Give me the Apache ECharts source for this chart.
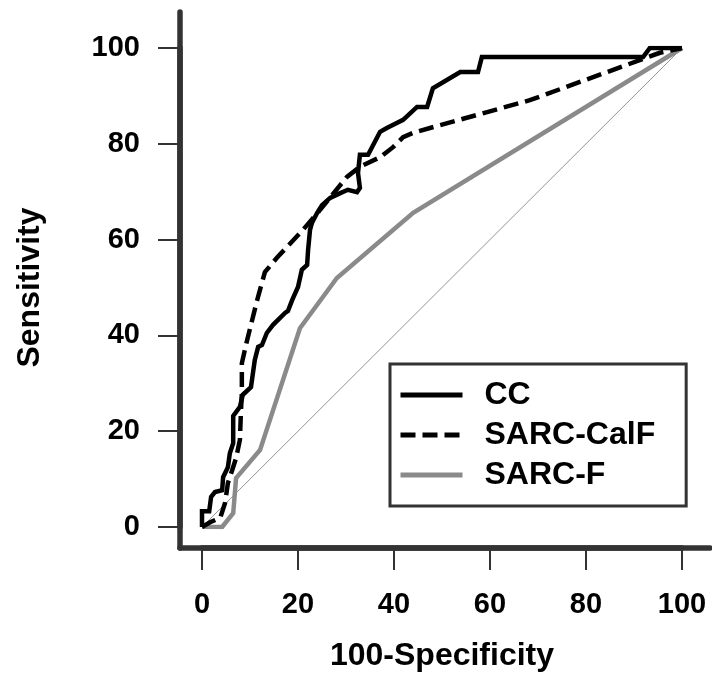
<!doctype html>
<html lang="en">
<head>
    <meta charset="UTF-8">
    <script src="https://cdn.jsdelivr.net/npm/echarts@6/dist/echarts.min.js"></script>
    <title>ROC</title>
    <style>
        body { margin: 0; background: #fff; }
    </style>
</head>
<body>
<div id="main" style="width: 712px;height:677px;"></div>
<script>
    // ROC curve points [100-specificity, sensitivity]
    var ccPoints = [
        [0, 0], [0, 3.3], [1.5, 3.3], [1.9, 6.3], [2.7, 7.3], [4.2, 7.7], [4.4, 10.4],
        [5.4, 12.5], [5.8, 15.4], [6.5, 17.5], [6.5, 23.2], [7.9, 25.1], [8.5, 27.6],
        [10.2, 29.2], [11.0, 34.9], [11.7, 37.6], [12.5, 38.0], [13.5, 40.5], [14.8, 42.2],
        [17.3, 44.7], [17.9, 45.1], [18.8, 47.4], [20.0, 50.1], [20.8, 53.7], [21.9, 54.7],
        [22.1, 57.8], [22.5, 62.0], [22.9, 63.5], [24.0, 65.6], [25.0, 67.2], [26.7, 68.7],
        [28.8, 69.7], [30.4, 70.4], [32.3, 69.9], [32.9, 70.8], [32.5, 73.9], [32.9, 77.7],
        [34.6, 77.7], [37.1, 82.5], [38.5, 83.3], [41.9, 85.0], [44.8, 87.7], [46.9, 87.7],
        [48.1, 91.6], [53.8, 95.0], [57.5, 95.0], [58.3, 98.1], [91.9, 98.1], [93.3, 100],
        [100, 100]
    ];
    var calfPoints = [
        [0, 0], [1.7, 1.0], [3.8, 1.9], [4.8, 5.0], [5.4, 9.2], [6.3, 11.9], [7.1, 14.4],
        [7.9, 18.2], [8.1, 23.8], [8.3, 28.0], [8.3, 34.2], [9.4, 39.0], [11.5, 47.4],
        [13.1, 53.2], [15.6, 56.2], [21.0, 62.0], [24.6, 66.2], [30.2, 73.1], [32.9, 75.2],
        [37.1, 77.2], [39.8, 79.3], [41.9, 81.4], [44.0, 82.3], [47.5, 83.3], [68.3, 89.1],
        [95.4, 99.0], [100, 100]
    ];
    var sarcfPoints = [
        [0, 0], [4.2, 0], [6.5, 2.9], [7.1, 10.2], [12.1, 16.1], [20.4, 41.5],
        [28.1, 52.0], [44.0, 65.6], [100, 100]
    ];
    var refPoints = [[0, 0], [100, 100]];
    var tickValues = [0, 20, 40, 60, 80, 100];
    var seriesNames = ['CC', 'SARC-CalF', 'SARC-F'];

    var font = 'Liberation Sans, Arial, sans-serif';
    var axisColor = '#333';
    var myChart = echarts.init(document.getElementById('main'));

    // plot area of the data grid (grid 1), in px, and the gap to the frame lines
    var plotW = 712 - 202 - 30, plotH = 677 - 48 - 150;
    var frameGapX = 22, frameGapY = 21, tickLen = 22;
    var unitX = plotW / 100, unitY = plotH / 100;

    function hiddenAxis(grid, max) {
        return {type: 'value', gridIndex: grid, min: 0, max: max, show: false};
    }

    // grid 0 only carries the long axis lines
    function frameAxis() {
        return {
            type: 'value', gridIndex: 0, min: 0, max: 1,
            axisLine: {show: true, onZero: false, lineStyle: {color: axisColor, width: 5.5}},
            axisTick: {show: false},
            axisLabel: {show: false},
            splitLine: {show: false}
        };
    }

    // grids 2 and 3 share the data scale but sit on the frame lines: labels, names
    function scaleAxis(grid, name, nameGap, labelMargin) {
        return {
            type: 'value', gridIndex: grid, min: 0, max: 100, interval: 20,
            name: name,
            nameLocation: 'middle',
            nameGap: nameGap,
            nameTextStyle: {fontFamily: font, fontWeight: 'bold', fontSize: 32, color: '#000'},
            axisLine: {show: true, lineStyle: {color: axisColor, width: 5.5}},
            axisTick: {show: true, length: tickLen, lineStyle: {color: axisColor, width: 2}},
            axisLabel: {show: true, margin: labelMargin, fontFamily: font, fontWeight: 'bold',
                fontSize: 29, color: '#000'},
            splitLine: {show: false}
        };
    }

    // tick marks as short segments through the data scale, outside the plot area
    function tickSeries(points) {
        return {
            type: 'line', xAxisIndex: 1, yAxisIndex: 1, data: points,
            symbol: 'none', silent: true, clip: false, z: 1,
            lineStyle: {color: axisColor, width: 2}
        };
    }
    var yLo = -frameGapY / unitY, yHi = -(frameGapY + tickLen) / unitY;
    var xLo = -frameGapX / unitX, xHi = -(frameGapX + tickLen) / unitX;
    var tickMarks = [];
    tickValues.forEach(function (v) {
        tickMarks.push(tickSeries([[v, yLo], [v, yHi]]));
        tickMarks.push(tickSeries([[xLo, v], [xHi, v]]));
    });

    var option = {
        animation: false,
        grid: [
            {left: 180, right: 2, top: 12, bottom: 129},
            {left: 202, right: 30, top: 48, bottom: 150},
            {left: 202, right: 30, top: 48, bottom: 129},
            {left: 180, right: 30, top: 48, bottom: 150}
        ],
        legend: {
            data: seriesNames,
            orient: 'vertical',
            left: 390,
            top: 364,
            padding: [14, 31, 14, 8],
            itemWidth: 62,
            itemHeight: 14,
            itemGap: 6,
            borderColor: axisColor,
            borderWidth: 3,
            itemStyle: {opacity: 0},
            lineStyle: {width: 5},
            textStyle: {
                fontFamily: font, fontWeight: 'bold', fontSize: 32, color: '#000',
                lineHeight: 34, padding: [0, 0, 0, 17]
            }
        },
        xAxis: [
            frameAxis(),
            hiddenAxis(1, 100),
            scaleAxis(2, '100-Specificity', 92, 42),
            hiddenAxis(3, 1)
        ],
        yAxis: [
            frameAxis(),
            hiddenAxis(1, 100),
            hiddenAxis(2, 1),
            scaleAxis(3, 'Sensitivity', 134, 40)
        ],
        series: tickMarks.concat([
            {
                name: 'ref', type: 'line', xAxisIndex: 1, yAxisIndex: 1, data: refPoints,
                symbol: 'none', silent: true,
                lineStyle: {color: '#777', width: 0.8}
            },
            {
                name: 'SARC-F', type: 'line', xAxisIndex: 1, yAxisIndex: 1, data: sarcfPoints,
                symbol: 'none',
                lineStyle: {color: '#8a8a8a', width: 4.5, join: 'miter'},
                itemStyle: {color: '#8a8a8a'}
            },
            {
                name: 'SARC-CalF', type: 'line', xAxisIndex: 1, yAxisIndex: 1, data: calfPoints,
                symbol: 'none',
                lineStyle: {color: '#000', width: 4.5, type: [15, 7], join: 'miter'},
                itemStyle: {color: '#000'}
            },
            {
                name: 'CC', type: 'line', xAxisIndex: 1, yAxisIndex: 1, data: ccPoints,
                symbol: 'none',
                lineStyle: {color: '#000', width: 4.5, join: 'miter'},
                itemStyle: {color: '#000'}
            }
        ])
    };

    myChart.setOption(option);
</script>
</body>
</html>
